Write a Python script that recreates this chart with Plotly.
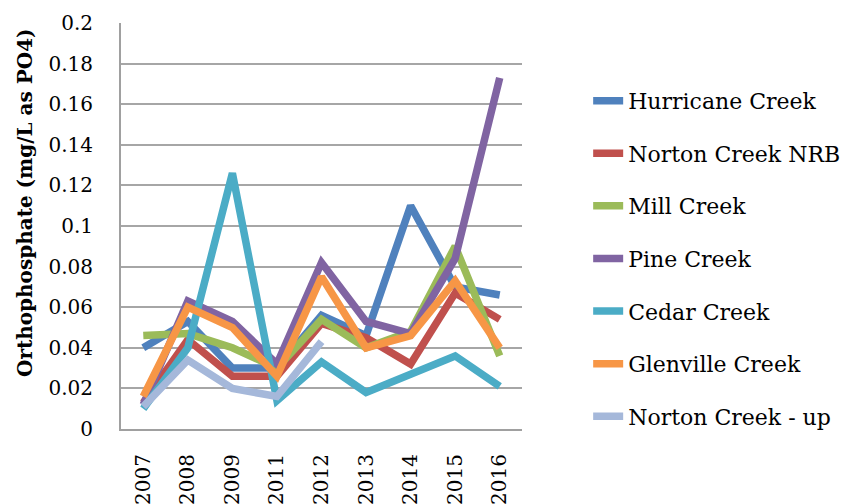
import plotly.graph_objects as go

years = ["2007", "2008", "2009", "2011", "2012", "2013", "2014", "2015", "2016"]

hurricane = [0.040, 0.053, 0.030, 0.030, 0.056, 0.046, 0.110, 0.070, 0.066]
norton_nrb = [0.013, 0.044, 0.026, 0.026, 0.052, 0.045, 0.032, 0.067, 0.054]
mill = [0.046, 0.047, 0.040, 0.030, 0.054, 0.040, 0.048, 0.090, 0.036]
pine = [0.012, 0.063, 0.053, 0.032, 0.082, 0.053, 0.047, 0.084, 0.173]
cedar = [0.010, 0.040, 0.126, 0.014, 0.033, 0.018, 0.027, 0.036, 0.021]
glenville = [0.016, 0.060, 0.050, 0.026, 0.075, 0.040, 0.046, 0.073, 0.040]
norton_up = [0.011, 0.034, 0.020, 0.016, 0.043, None, None, None, None]

y_ticks = [0, 0.02, 0.04, 0.06, 0.08, 0.1, 0.12, 0.14, 0.16, 0.18, 0.2]
y_tick_text = ["0", "0.02", "0.04", "0.06", "0.08", "0.1", "0.12", "0.14", "0.16", "0.18", "0.2"]

series = [
    ("Hurricane Creek", hurricane, "#4F81BD"),
    ("Norton Creek NRB", norton_nrb, "#C0504D"),
    ("Mill Creek", mill, "#9BBB59"),
    ("Pine Creek", pine, "#8064A2"),
    ("Cedar Creek", cedar, "#4BACC6"),
    ("Glenville Creek", glenville, "#F79646"),
    ("Norton Creek - up", norton_up, "#A5B8DA"),
]

SERIF = "DejaVu Serif"

fig = go.Figure()
for i, (name, vals, color) in enumerate(series):
    fig.add_trace(go.Scatter(
        x=years, y=vals, name=name, mode="lines",
        line=dict(color=color, width=7.5),
        legendgroup=f"g{i}",
        connectgaps=False,
    ))

fig.update_layout(
    width=841, height=504,
    margin=dict(l=121, r=319, t=23, b=75, autoexpand=False),
    paper_bgcolor="white", plot_bgcolor="white",
    showlegend=True,
    legend=dict(
        x=1.165, y=0.86, xanchor="left", yanchor="top",
        font=dict(family=SERIF, size=22, color="black"),
        tracegroupgap=21,
        itemwidth=30,
        bgcolor="rgba(0,0,0,0)",
    ),
    xaxis=dict(
        type="category",
        range=[-0.5, 8.5],
        automargin=False,
        showgrid=False,
        showline=True, linecolor="#A0A0A0", linewidth=2,
        ticks="outside", ticklen=15, tickcolor="rgba(0,0,0,0)",
        tickangle=-90,
        tickfont=dict(family=SERIF, size=20, color="black"),
    ),
    yaxis=dict(
        range=[0, 0.2],
        automargin=False,
        tickvals=y_ticks,
        ticktext=y_tick_text,
        showgrid=True, gridcolor="#A6A6A6", gridwidth=2,
        showline=True, linecolor="#A0A0A0", linewidth=2,
        zeroline=False,
        ticks="outside", ticklen=22, tickcolor="rgba(0,0,0,0)",
        tickfont=dict(family=SERIF, size=20, color="black"),
    ),
    annotations=[dict(
        text="<b>Orthophosphate (mg/L as PO4)</b>",
        textangle=-90,
        xref="paper", yref="paper",
        x=-0.239, y=0.557, xanchor="center", yanchor="middle",
        showarrow=False,
        font=dict(family=SERIF, size=20, color="black"),
    )],
)

fig.write_html("out.html")
